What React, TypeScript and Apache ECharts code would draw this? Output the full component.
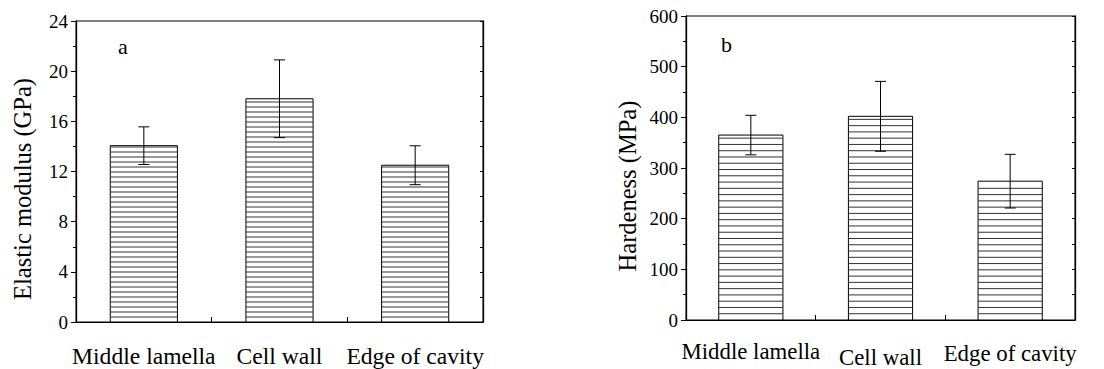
import React, { useEffect, useRef } from "react";
import * as echarts from "echarts";

const categories = ["Middle lamella", "Cell wall", "Edge of cavity"];
const modulusMean = [14.06, 17.8, 12.5];
const modulusErr = [1.5, 3.1, 1.55];
const hardnessMean = [365, 402, 274];
const hardnessErr = [39, 69, 53];
const modulusTicks = { min: 0, max: 24, step: 4 };
const hardnessTicks = { min: 0, max: 600, step: 100 };

const FONT = "serif";

function hatchBar(spacing: number) {
  return (params: any, api: any) => {
    const idx = api.value(0);
    const v = api.value(1);
    const base = api.coord([idx, 0]);
    const top = api.coord([idx, v]);
    const bw = api.size([1, 0])[0] * 0.495;
    const x0 = base[0] - bw / 2;
    const children: any[] = [
      {
        type: "rect",
        shape: { x: x0, y: top[1], width: bw, height: base[1] - top[1] },
        style: { fill: "#fff", stroke: "#000", lineWidth: 1 },
      },
    ];
    for (let y = base[1] - spacing; y > top[1] + 1; y -= spacing) {
      children.push({
        type: "line",
        shape: { x1: x0, y1: y, x2: x0 + bw, y2: y },
        style: { stroke: "#333", lineWidth: 1 },
      });
    }
    return { type: "group", children };
  };
}

function errBar(params: any, api: any) {
  const idx = api.value(0);
  const lo = api.coord([idx, api.value(1)]);
  const hi = api.coord([idx, api.value(2)]);
  const cw = 5.5;
  return {
    type: "group",
    children: [
      { type: "line", shape: { x1: lo[0], y1: lo[1], x2: hi[0], y2: hi[1] }, style: { stroke: "#000", lineWidth: 1 } },
      { type: "line", shape: { x1: hi[0] - cw, y1: hi[1], x2: hi[0] + cw, y2: hi[1] }, style: { stroke: "#000", lineWidth: 1 } },
      { type: "line", shape: { x1: lo[0] - cw, y1: lo[1], x2: lo[0] + cw, y2: lo[1] }, style: { stroke: "#000", lineWidth: 1 } },
    ],
  };
}

export default function App() {
  const ref = useRef<HTMLDivElement>(null);
  useEffect(() => {
    if (!ref.current) return;
    const chart = echarts.init(ref.current, null, { renderer: "svg" });
    const grids = [
      { left: 76, top: 21, width: 407, height: 301 },
      { left: 686, top: 16, width: 389, height: 305 },
    ];
    const xAxes: any[] = [];
    const yAxes: any[] = [];
    [0, 1].forEach((g) => {
      const fs = g === 0 ? 23.6 : 22.8;
      const richBase = { fontFamily: FONT, fontSize: fs, color: "#000" };
      const rich =
        g === 0
          ? { c0: { ...richBase }, c1: { ...richBase }, c2: { ...richBase } }
          : {
              c0: { ...richBase },
              c1: { ...richBase, padding: [6, 0, 0, 0] },
              c2: { ...richBase, padding: [2, 0, 0, 0] },
            };
      xAxes.push({
        type: "category",
        gridIndex: g,
        data: categories,
        position: "bottom",
        axisLine: { show: true, lineStyle: { color: "#000", width: 1 } },
        axisTick: { show: true, inside: true, length: 5, lineStyle: { color: "#000" } },
        axisLabel: {
          show: true,
          margin: g === 0 ? 22 : 20,
          fontFamily: FONT,
          fontSize: fs,
          color: "#000",
          interval: 0,
          formatter: (val: string, i: number) => `{c${i}|${val}}`,
          rich,
        },
        splitLine: { show: false },
      });
      xAxes.push({
        type: "category",
        gridIndex: g,
        data: categories,
        position: "bottom",
        axisLine: { show: false },
        axisTick: { show: true, inside: true, alignWithLabel: true, length: 5, lineStyle: { color: "#000" } },
        axisLabel: { show: false },
        splitLine: { show: false },
      });
      const t = g === 0 ? modulusTicks : hardnessTicks;
      yAxes.push({
        type: "value",
        gridIndex: g,
        position: "left",
        min: t.min,
        max: t.max,
        interval: t.step,
        axisLine: { show: true, lineStyle: { color: "#000", width: 1.3 } },
        axisTick: { show: true, inside: false, length: 5, lineStyle: { color: "#000" } },
        minorTick: { show: true, splitNumber: 2, length: 3, lineStyle: { color: "#000" } },
        axisLabel: { margin: 8, fontFamily: FONT, fontSize: 19, color: "#000" },
        splitLine: { show: false },
        minorSplitLine: { show: false },
      });
      yAxes.push({
        type: "value",
        gridIndex: g,
        position: "right",
        min: t.min,
        max: t.max,
        interval: t.step / 2,
        axisLine: { show: true, lineStyle: { color: "#000", width: 1.3 } },
        axisTick: { show: true, inside: true, length: 3, lineStyle: { color: "#000" } },
        axisLabel: { show: false },
        splitLine: { show: false },
      });
    });
    const option: any = {
      animation: false,
      textStyle: { fontFamily: FONT },
      grid: grids.map((g) => ({ ...g, show: true, borderColor: "#000", borderWidth: 1, backgroundColor: "transparent" })),
      xAxis: xAxes,
      yAxis: yAxes,
      series: [
        {
          type: "custom",
          xAxisIndex: 0,
          yAxisIndex: 0,
          renderItem: hatchBar(5.0),
          encode: { x: 0, y: 1 },
          data: modulusMean.map((v, i) => [i, v]),
          z: 2,
        },
        {
          type: "custom",
          xAxisIndex: 0,
          yAxisIndex: 0,
          renderItem: errBar,
          encode: { x: 0, y: [1, 2] },
          data: modulusMean.map((v, i) => [i, v - modulusErr[i], v + modulusErr[i]]),
          z: 3,
        },
        {
          type: "custom",
          xAxisIndex: 2,
          yAxisIndex: 2,
          renderItem: hatchBar(6.27),
          encode: { x: 0, y: 1 },
          data: hardnessMean.map((v, i) => [i, v]),
          z: 2,
        },
        {
          type: "custom",
          xAxisIndex: 2,
          yAxisIndex: 2,
          renderItem: errBar,
          encode: { x: 0, y: [1, 2] },
          data: hardnessMean.map((v, i) => [i, v - hardnessErr[i], v + hardnessErr[i]]),
          z: 3,
        },
      ],
      graphic: [
        {
          type: "text",
          x: 22,
          y: 189,
          rotation: Math.PI / 2,
          style: { text: "Elastic modulus (GPa)", fontFamily: FONT, fontSize: 24.5, fill: "#000", align: "center", verticalAlign: "middle" },
        },
        {
          type: "text",
          x: 627,
          y: 186,
          rotation: Math.PI / 2,
          style: { text: "Hardeness (MPa)", fontFamily: FONT, fontSize: 24.5, fill: "#000", align: "center", verticalAlign: "middle" },
        },
        {
          type: "text",
          x: 118,
          y: 46,
          style: { text: "a", fontFamily: FONT, fontSize: 22, fill: "#000", align: "left", verticalAlign: "middle" },
        },
        {
          type: "text",
          x: 721,
          y: 44.5,
          style: { text: "b", fontFamily: FONT, fontSize: 22, fill: "#000", align: "left", verticalAlign: "middle" },
        },
      ],
    };
    chart.setOption(option);
    return () => chart.dispose();
  }, []);
  return <div ref={ref} style={{ width: 1104, height: 369, position: "absolute", left: 0, top: 0 }} />;
}
